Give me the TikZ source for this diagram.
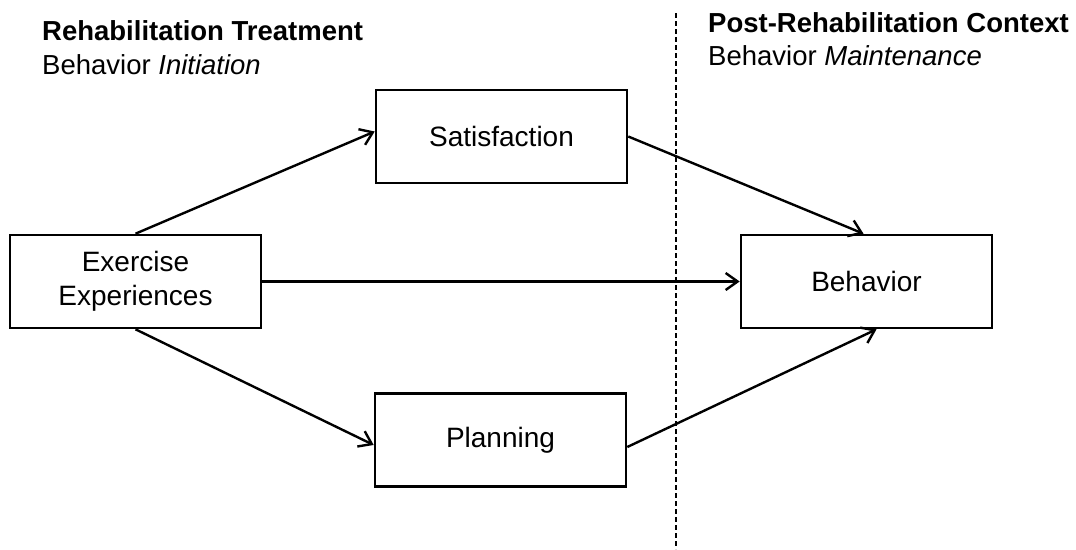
\documentclass[tikz,border=0pt]{standalone}
\usepackage{fontspec}
\setmainfont{Liberation Sans}
\usetikzlibrary{arrows.meta}
\begin{document}
\begin{tikzpicture}[x=1pt,y=-1pt,
  box/.style={draw, line width=2.6pt, minimum width=251pt, minimum height=93pt,
    inner sep=0pt, align=center, font=\fontsize{28}{34}\selectfont},
  link/.style={line width=2.4pt, -{Straight Barb[length=12pt,width=17pt,line width=2.4pt]}},
  heading/.style={anchor=base west, inner sep=0pt, font=\fontsize{27.5}{30}\selectfont},
  divider/.style={line width=2pt, dash pattern=on 5pt off 3pt}]
\useasboundingbox (0,0) rectangle (1076,549);

% phase divider
\coordinate (dtop) at (676,13);
\coordinate (dbot) at (676,549);
\draw[divider] (dtop) -- (dbot);

% phase headings
\node[heading, font=\fontsize{27.5}{30}\selectfont\bfseries] (h1) at (42,40) {Rehabilitation Treatment};
\node[heading] (s1) at (42,74) {Behavior \textit{Initiation}};
\node[heading, font=\fontsize{27.5}{30}\selectfont\bfseries] (h2) at (708,32) {Post-Rehabilitation Context};
\node[heading] (s2) at (708,65) {Behavior \textit{Maintenance}};

% model boxes
\node[box] (ex) at (135.5,281.5) {Exercise\\Experiences};
\node[box] (sat) at (501.5,136.5) {Satisfaction};
\node[box] (plan) at (500.5,440) {Planning};
\node[box] (beh) at (866.5,281.5) {Behavior};

% paths
\draw[link] (ex.north) -- ([yshift=5pt]sat.west);
\draw[link] (ex.south) -- ([yshift=-5pt]plan.west);
\draw[link] (ex.east) -- (beh.west);
\draw[link] (sat.east) -- ([xshift=-3pt]beh.north);
\draw[link] ([yshift=-7pt]plan.east) -- ([xshift=10pt]beh.south);
\end{tikzpicture}
\end{document}
